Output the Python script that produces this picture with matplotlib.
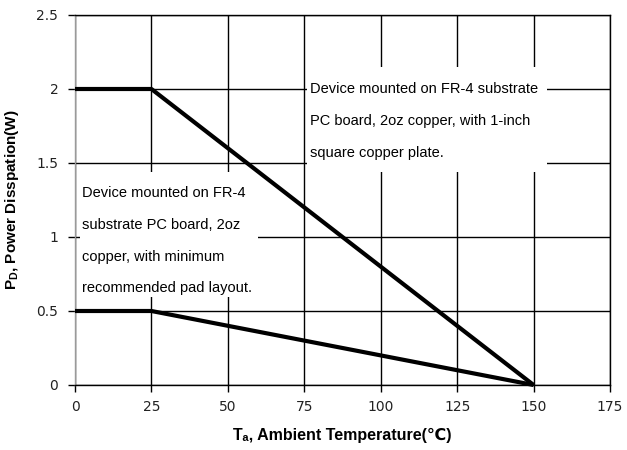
import matplotlib
matplotlib.use("Agg")
import matplotlib.pyplot as plt
from matplotlib.patches import Rectangle

# Derating curves: ambient temperature (°C) vs. allowed power dissipation (W)
temp_plate = [0, 25, 150]
power_plate = [2.0, 2.0, 0.0]
temp_minpad = [0, 25, 150]
power_minpad = [0.5, 0.5, 0.0]

x_ticks = [0, 25, 50, 75, 100, 125, 150, 175]
y_ticks = [0, 0.5, 1, 1.5, 2, 2.5]
y_tick_labels = ["0", "0.5", "1", "1.5", "2", "2.5"]

note_plate = ("Device mounted on FR-4 substrate\n"
              "PC board, 2oz copper, with 1-inch\n"
              "square copper plate.")
note_minpad = ("Device mounted on FR-4\n"
               "substrate PC board, 2oz\n"
               "copper, with minimum\n"
               "recommended pad layout.")

fig = plt.figure(figsize=(6.27, 4.5), dpi=100)
ax = fig.add_axes([75 / 627, 1 - 385 / 450, 535 / 627, 370 / 450])

ax.set_xlim(0, 175)
ax.set_ylim(0, 2.5)
ax.set_xticks(x_ticks)
ax.set_yticks(y_ticks)
ax.set_yticklabels(y_tick_labels)

ax.grid(True, color="black", linewidth=1.0, zorder=1)
ax.set_axisbelow(True)

for side in ("top", "right", "bottom"):
    ax.spines[side].set_color("black")
    ax.spines[side].set_linewidth(1.0)
ax.spines["left"].set_color("#9a9a9a")
ax.spines["left"].set_linewidth(1.0)

ax.tick_params(axis="both", direction="out", length=5, width=1.0,
               color="black", labelsize=10, labelcolor="#222222")
ax.tick_params(axis="y", pad=7)
ax.tick_params(axis="x", pad=6)
for lab in ax.get_xticklabels() + ax.get_yticklabels():
    lab.set_fontfamily("DejaVu Sans")

# White panels behind the notes
ax.add_patch(Rectangle((76.0, 1.44), 78.4, 0.71, facecolor="white",
                       edgecolor="none", zorder=2))
ax.add_patch(Rectangle((1.7, 0.595), 58.3, 0.845, facecolor="white",
                       edgecolor="none", zorder=2))

ax.text(77.0, 1.785, note_plate, fontsize=10.5, family=["Liberation Sans"],
        ha="left", va="center", linespacing=2.62, zorder=3)
ax.text(2.3, 0.975, note_minpad, fontsize=10.5, family=["Liberation Sans"],
        ha="left", va="center", linespacing=2.62, zorder=3)

ax.plot(temp_plate, power_plate, color="black", linewidth=3.0,
        solid_capstyle="butt", zorder=4, clip_on=False)
ax.plot(temp_minpad, power_minpad, color="black", linewidth=3.0,
        solid_capstyle="butt", zorder=4, clip_on=False)

ax.set_xlabel("T\u2090, Ambient Temperature(\u2103)", fontsize=11.5,
              fontweight="bold", family=["Liberation Sans", "DejaVu Sans"],
              labelpad=10)
ax.set_ylabel(r"P$_\mathregular{D}$, Power Disspation(W)", fontsize=11,
              fontweight="bold", family=["Liberation Sans", "DejaVu Sans"],
              labelpad=11)

fig.savefig("out.png", dpi=100)
